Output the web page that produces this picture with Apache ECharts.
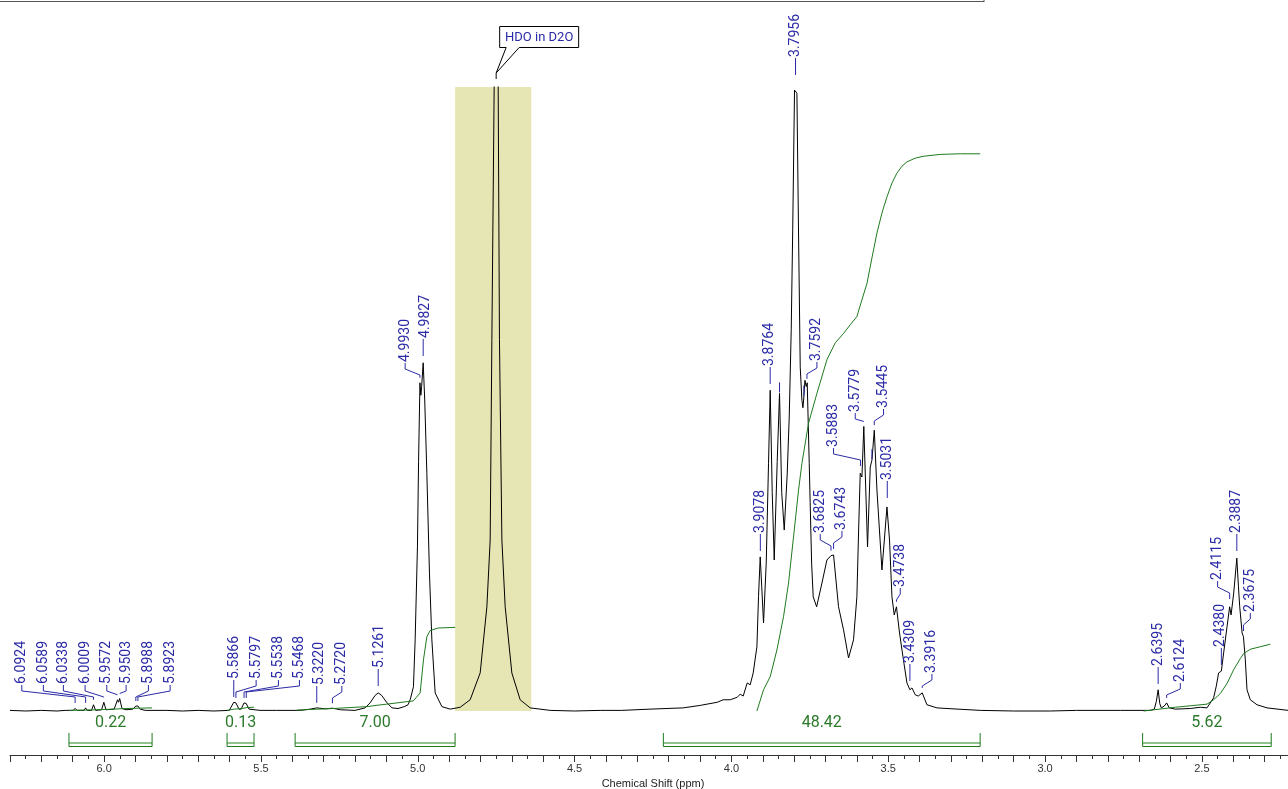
<!DOCTYPE html>
<html>
<head>
<meta charset="utf-8">
<script src="https://cdn.jsdelivr.net/npm/echarts@6/dist/echarts.min.js"></script>
<style>
html,body{margin:0;padding:0;background:#fff;}
#chart{width:1288px;height:789px;}
</style>
</head>
<body>
<div id="chart"></div>
<script>
// ---------- DATA ----------
// spectrum trace: [chemical shift ppm, relative intensity]
const spectrum = [
[6.300,0.1],[6.250,0.0],[6.200,0.1],[6.150,0.0],[6.124,0.1],[6.099,0.1],[6.0924,0.4],[6.086,0.1],[6.064,0.1],[6.0589,0.5],[6.054,0.1],[6.040,0.1],[6.0338,1.0],[6.027,0.1],[6.008,0.2],[6.0009,1.4],[5.994,0.2],[5.968,0.3],[5.9572,1.8],[5.9540,1.4],[5.9503,2.0],[5.943,0.4],[5.930,0.2],[5.908,0.3],[5.8988,0.8],[5.8956,0.6],[5.8923,0.8],[5.885,0.3],[5.869,0.1],[5.80,0.1],[5.75,0.0],[5.70,0.1],[5.65,0.0],[5.601,0.1],[5.595,0.3],[5.5866,1.4],[5.5830,1.1],[5.5797,1.3],[5.570,0.3],[5.563,0.3],[5.5538,1.3],[5.5504,1.0],[5.5468,1.2],[5.538,0.3],[5.503,0.1],[5.45,0.1],[5.375,0.1],[5.343,0.3],[5.3220,0.5],[5.295,0.35],[5.2720,0.45],[5.247,0.2],[5.200,0.1],[5.168,0.5],[5.152,1.3],[5.136,2.5],[5.1261,2.9],[5.115,2.5],[5.098,1.3],[5.082,0.5],[5.063,0.4],[5.043,0.7],[5.031,1.0],[5.0242,1.8],[5.0137,3.9],[5.0083,11.4],[5.0010,26.3],[4.9974,40.0],[4.9930,52.6],[4.9901,50.6],[4.9876,52.0],[4.9827,55.8],[4.9779,50.0],[4.9710,38.1],[4.9627,22.1],[4.9550,11.4],[4.9445,2.9],[4.9231,0.7],[4.8967,0.3],[4.8648,0.6],[4.8329,1.8],[4.8010,6.1],[4.7796,16.7],[4.7691,27.4],[4.7637,59.5],[4.7564,100],[4.7500,135],[4.7436,100],[4.7395,59.5],[4.7318,27.4],[4.7213,16.7],[4.7000,6.1],[4.6735,1.8],[4.6416,0.5],[4.5778,0.1],[4.50,0.0],[4.4184,0.1],[4.35,0.1],[4.2589,0.3],[4.1537,0.5],[4.0995,0.9],[4.0453,1.4],[4.0261,1.8],[4.0038,1.8],[3.9815,2.2],[3.9719,2.7],[3.9624,2.4],[3.9496,4.5],[3.9401,4.2],[3.9305,6.1],[3.9187,10.3],[3.9136,18.3],[3.9082,24.7],[3.9034,20.0],[3.8976,14.1],[3.8890,23.7],[3.8817,39.7],[3.8763,51.4],[3.8699,35.0],[3.8635,24.2],[3.8540,40.0],[3.8466,50.9],[3.8396,35.0],[3.8316,29.0],[3.8221,38.0],[3.8157,47.1],[3.8093,61.1],[3.8046,77.1],[3.7988,99.5],[3.7956,99.8],[3.7912,99.0],[3.7860,76.6],[3.7806,55.1],[3.7752,49.8],[3.7720,48.6],[3.7695,50.0],[3.7656,53.0],[3.7615,52.0],[3.7583,52.6],[3.7519,39.7],[3.7443,23.7],[3.7392,18.3],[3.7283,16.7],[3.7114,20.5],[3.6955,24.2],[3.6825,24.9],[3.6785,24.6],[3.6743,25.0],[3.6658,20.5],[3.6585,16.7],[3.6425,13.0],[3.6266,8.5],[3.6107,11.4],[3.6000,18.3],[3.5944,29.0],[3.5893,38.1],[3.5839,37.5],[3.5779,45.6],[3.5660,26.3],[3.5574,39.1],[3.5520,40.2],[3.5445,45.0],[3.5360,35.4],[3.5201,22.6],[3.5041,32.7],[3.4959,27.4],[3.4882,18.3],[3.4809,15.4],[3.4738,16.7],[3.4640,12.5],[3.4531,8.7],[3.4404,4.5],[3.4309,3.4],[3.4244,3.7],[3.4139,2.6],[3.4043,2.4],[3.3916,2.9],[3.3766,1.0],[3.3447,0.5],[3.3128,0.4],[3.2066,0.1],[3.10,0.0],[2.9834,0.0],[2.90,0.1],[2.7602,0.1],[2.6645,0.1],[2.6518,0.3],[2.6454,1.5],[2.6395,3.4],[2.6343,1.2],[2.6295,0.5],[2.6199,0.8],[2.6124,1.3],[2.6040,0.5],[2.5849,0.3],[2.5371,0.4],[2.5051,0.6],[2.4838,0.5],[2.4732,1.3],[2.4627,2.1],[2.4541,4.0],[2.4467,6.1],[2.4380,6.4],[2.4307,9.3],[2.4199,13.5],[2.4115,16.7],[2.4070,15.4],[2.3986,18.9],[2.3887,24.5],[2.3836,20.0],[2.3794,16.7],[2.3718,12.5],[2.3675,11.9],[2.3616,8.2],[2.3562,3.4],[2.3457,1.8],[2.3243,1.0],[2.2924,0.5],[2.2245,0.1],[2.20,0.1]
];

// integral curves
const integral1 = [[6.112,0.1],[6.06,0.15],[6.02,0.2],[5.97,0.3],[5.93,0.4],[5.89,0.45],[5.847,0.5]];
const integral2 = [[5.608,0.1],[5.585,0.3],[5.56,0.4],[5.545,0.55],[5.522,0.6]];
const integral3 = [[5.3855,0.15],[5.2698,0.4],[5.1623,0.7],[5.1327,0.9],[5.0985,1.1],[5.0348,1.5],[5.0147,1.6],[4.9923,2.9],[4.9818,8.2],[4.9710,11.9],[4.9605,12.9],[4.9349,13.3],[4.8807,13.4]];
const integral4 = [[3.9187,0],[3.8976,3.4],[3.8763,5.5],[3.8549,9.8],[3.8339,15.1],[3.8179,20.5],[3.8020,27.9],[3.7860,35.4],[3.7752,39.7],[3.7542,46.1],[3.7274,50.9],[3.6955,56.3],[3.6690,59.0],[3.6426,60.5],[3.6212,61.9],[3.6000,63.2],[3.5839,65.9],[3.5679,68.5],[3.5520,72.6],[3.5360,76.6],[3.5201,79.8],[3.5041,82.4],[3.4882,84.6],[3.4723,86.2],[3.4563,87.3],[3.4404,88.0],[3.4139,88.6],[3.3874,88.9],[3.3342,89.2],[3.2704,89.3],[3.2066,89.3]];
const integral5 = [[2.6859,0],[2.5849,0.6],[2.4838,1.1],[2.4627,1.8],[2.4413,2.8],[2.4200,4.4],[2.3989,6.6],[2.3776,8.4],[2.3670,9.2],[2.3457,9.9],[2.3138,10.3],[2.2819,10.7]];

// integral ranges and their values
const integralRanges = [[6.112,5.847],[5.608,5.522],[5.391,4.881],[4.217,3.207],[2.689,2.279]];
const integralValues = ['0.22','0.13','7.00','48.42','5.62'];

// peak picking labels
const peakLabelValues = [6.0924,6.0589,6.0338,6.0009,5.9572,5.9503,5.8988,5.8923,5.5866,5.5797,5.5538,5.5468,5.3220,5.2720,5.1261,4.9930,4.9827,3.9078,3.8764,3.7956,3.7592,3.6825,3.6743,3.5883,3.5779,3.5445,3.5031,3.4738,3.4309,3.3916,2.6395,2.6124,2.4380,2.4115,2.3887,2.3675];
// label anchor: ppm of the text column and intensity at the text foot
const peakLabelX = [6.2624,6.1936,6.1298,6.0606,5.9914,5.9298,5.8587,5.7895,5.5845,5.5153,5.4442,5.3772,5.3144,5.2420,5.1221,5.0402,4.9764,3.9082,3.8785,3.7956,3.7274,3.7168,3.6476,3.6744,3.6052,3.5150,3.5016,3.4617,3.4298,3.3607,2.6390,2.5689,2.4413,2.4499,2.3888,2.3457];
const peakLabelFoot = [4.33,4.33,4.33,4.33,4.33,4.33,4.33,4.33,5.13,5.13,5.13,5.13,4.17,4.17,6.89,55.93,59.78,28.53,55.29,104.81,56.09,28.53,29.01,42.31,47.92,48.56,37.02,19.87,7.69,6.09,7.21,4.65,10.26,20.99,28.53,15.87];
// peaks that carry only a tick mark
const peakTickOnly = [3.8466,3.7690,3.5520];

const solventRegion = [4.881, 4.638];
const solventPeak = 4.75;
const solventText = 'HDO in D2O';

// ---------- helpers ----------
function intensityAt(ppm){
  for (let i=0;i<spectrum.length-1;i++){
    const a=spectrum[i], b=spectrum[i+1];
    if ((ppm<=a[0] && ppm>=b[0])){
      const t=(a[0]-ppm)/(a[0]-b[0]);
      return a[1]+(b[1]-a[1])*t;
    }
  }
  return 0;
}

const BLUE = '#2a2aa6';
const GREEN = '#2a7a2a';
const LABEL_FONT = '14px Roboto';

const chart = echarts.init(document.getElementById('chart'), null, {renderer:'canvas'});

const option = {
  animation:false,
  backgroundColor:'#ffffff',
  grid:{left:10, right:-8, top:87, bottom:34, outerBoundsMode:'none', containLabel:false},
  xAxis:{
    type:'value', inverse:true, min:2.2, max:6.3, interval:0.1,
    axisLine:{show:true, onZero:false, lineStyle:{color:'#333', width:1}},
    axisTick:{show:true, length:7, lineStyle:{color:'#333'}},
    minorTick:{show:true, splitNumber:2, length:4, lineStyle:{color:'#333'}},
    splitLine:{show:false},
    axisLabel:{
      margin:8, color:'#333', fontSize:11, fontFamily:'Liberation Sans',
      showMinLabel:false, showMaxLabel:false,
      formatter:function(v){
        const r=Math.round(v*2);
        return Math.abs(v*2-r)<1e-6 ? (r/2).toFixed(1) : '';
      }
    },
    name:'Chemical Shift (ppm)', nameLocation:'middle', nameGap:21,
    nameTextStyle:{color:'#222', fontSize:11, fontFamily:'Liberation Sans'}
  },
  yAxis:{type:'value', min:-7.05, max:100, show:false},
  graphic:[
    {type:'line', shape:{x1:0,y1:1.5,x2:984,y2:1.5}, style:{stroke:'#555', lineWidth:1}},
    {type:'line', shape:{x1:984,y1:0,x2:984,y2:2}, style:{stroke:'#555', lineWidth:1}}
  ],
  series:[
    {
      type:'line', data:[], z:1, silent:true,
      markArea:{silent:true, itemStyle:{color:'#e6e6b4', opacity:1},
        data:[[{xAxis:solventRegion[0], yAxis:0},{xAxis:solventRegion[1], yAxis:100}]]}
    },
    {
      type:'line', data:spectrum, showSymbol:false, symbol:'none', z:3, silent:true,
      lineStyle:{color:'#000', width:1}, clip:true
    },
    ...[integral1,integral2,integral3,integral4,integral5].map(d=>({
      type:'line', data:d, showSymbol:false, symbol:'none', z:4, silent:true,
      lineStyle:{color:'#1f7a1f', width:1}
    })),
    {
      type:'custom', z:6, silent:true, clip:false,
      data: peakLabelValues.map((v,i)=>[v,i]),
      renderItem:function(params, api){
        const i = api.value(1);
        const v = peakLabelValues[i];
        const P = api.coord([v, intensityAt(v)]);
        const L = api.coord([peakLabelX[i], peakLabelFoot[i]]);
        const yT = L[1];
        const top = P[1];
        let pts;
        if (Math.abs(L[0]-P[0]) < 2.5){
          pts = [[P[0], yT+1],[P[0], Math.min(yT+18, top-5)]];
        } else {
          const yEnd = Math.min(yT+19, top-5);
          const y1 = Math.min(yT+7, yEnd);
          const y2 = Math.min(yT+13, yEnd);
          pts = [[L[0], yT+1],[L[0], y1],[P[0], y2],[P[0], yEnd]];
        }
        return {type:'group', children:[
          {type:'polyline', shape:{points:pts}, style:{stroke:BLUE, lineWidth:1, fill:null}},
          {type:'text', x:L[0], y:yT, rotation:Math.PI/2,
            style:{text:v.toFixed(4), x:0, y:0, fill:BLUE, font:LABEL_FONT, align:'left', verticalAlign:'middle'}}
        ]};
      }
    },
    {
      type:'custom', z:6, silent:true, clip:false,
      data: peakTickOnly.map((v,i)=>[v,i]),
      renderItem:function(params, api){
        const v = peakTickOnly[api.value(1)];
        const P = api.coord([v, intensityAt(v)]);
        return {type:'line', shape:{x1:P[0], y1:P[1]-11, x2:P[0], y2:P[1]-1}, style:{stroke:BLUE, lineWidth:1}};
      }
    },
    {
      type:'custom', z:6, silent:true, clip:false,
      data: integralRanges.map((r,i)=>[r[0], i]),
      renderItem:function(params, api){
        const i = api.value(1);
        const r = integralRanges[i];
        const x1 = api.coord([r[0],0])[0];
        const x2 = api.coord([r[1],0])[0];
        const yb = params.coordSys.y + params.coordSys.height;
        return {type:'group', children:[
          {type:'line', shape:{x1:x1, y1:yb-12, x2:x2, y2:yb-12}, style:{stroke:'#8fc48f', lineWidth:2}},
          {type:'polyline', shape:{points:[[x1,yb-22],[x1,yb-8.5],[x2,yb-8.5],[x2,yb-22]]}, style:{stroke:'#1f7a1f', lineWidth:1, fill:null}},
          {type:'text', x:(x1+x2)/2, y:yb-32, style:{text:integralValues[i], fill:GREEN, font:'16px Roboto', align:'center', verticalAlign:'middle'}}
        ]};
      }
    },
    {
      type:'custom', z:7, silent:true, clip:false,
      data:[[solventPeak, 0]],
      renderItem:function(params, api){
        const tx = api.coord([solventPeak, 0])[0];
        const gt = params.coordSys.y;
        const bx = tx+3.5, by = gt-60.5, bw = 79, bh = 21;
        const tipY = gt-14;
        return {type:'group', children:[
          {type:'polygon', shape:{points:[[bx,by],[bx+bw,by],[bx+bw,by+bh],[tx+23,by+bh],[tx,tipY],[tx+10,by+bh],[bx,by+bh]]},
            style:{fill:'#fff', stroke:'#000', lineWidth:1}},
          {type:'line', shape:{x1:tx, y1:tipY, x2:tx, y2:gt-8}, style:{stroke:'#000', lineWidth:1}},
          {type:'text', x:bx+bw/2, y:by+bh/2+0.5, style:{text:solventText, fill:BLUE, font:'13px Roboto', align:'center', verticalAlign:'middle'}}
        ]};
      }
    }
  ]
};
chart.setOption(option);
</script>
</body>
</html>
